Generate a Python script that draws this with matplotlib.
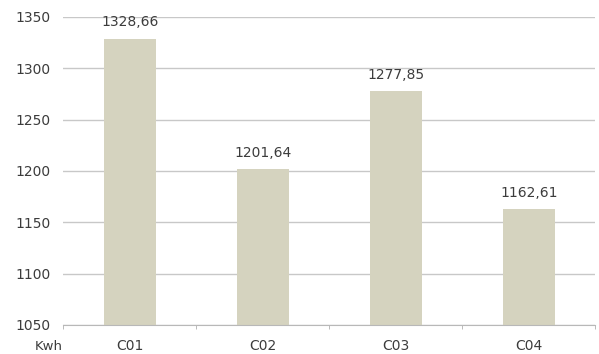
import numpy as np
import matplotlib
matplotlib.use('Agg')
import matplotlib.pyplot as plt

categories = ['C01', 'C02', 'C03', 'C04']
consumption = [1328.66, 1201.64, 1277.85, 1162.61]
yticks = [1050, 1100, 1150, 1200, 1250, 1300, 1350]

plt.rcParams['font.family'] = ['DejaVu Sans']
text_color = '#3c3c3c'
bar_color = '#d5d3bf'

fig = plt.figure(figsize=(5.99, 3.54), dpi=100)
ax = fig.add_axes([0.106, 0.082, 0.888, 0.870])

x = np.arange(len(categories))
ax.bar(x, consumption, width=0.39, color=bar_color, zorder=2)

# value labels above each bar, decimal comma
for xi, v in zip(x, consumption):
    ax.text(xi, v + 16, '{:.2f}'.format(v).replace('.', ','), ha='center', va='center',
            fontsize=10, color=text_color)

ax.set_xlim(-0.5, len(categories) - 0.5)
ax.set_ylim(1050, 1350)
ax.set_yticks(yticks)
ax.set_yticklabels([str(t) for t in yticks], fontsize=10, color=text_color)
ax.yaxis.grid(True, color='#c8c8c8', linewidth=1, zorder=0)
ax.tick_params(axis='y', length=0, pad=9)

# category labels in the middle, small ticks between categories
ax.set_xticks(x)
ax.set_xticklabels(categories, fontsize=10, color=text_color)
ax.tick_params(axis='x', which='major', length=0, pad=10)
ax.set_xticks(np.arange(-0.5, len(categories)), minor=True)
ax.tick_params(axis='x', which='minor', length=3, color='#b0b0b0', direction='out')

for s in ['top', 'right', 'left']:
    ax.spines[s].set_visible(False)
ax.spines['bottom'].set_color('#b8b8b8')

fig.text(49 / 599, 1 - 347 / 354, 'Kwh', ha='center', va='center', fontsize=9.5, color=text_color)

fig.savefig('out.png', dpi=100)
